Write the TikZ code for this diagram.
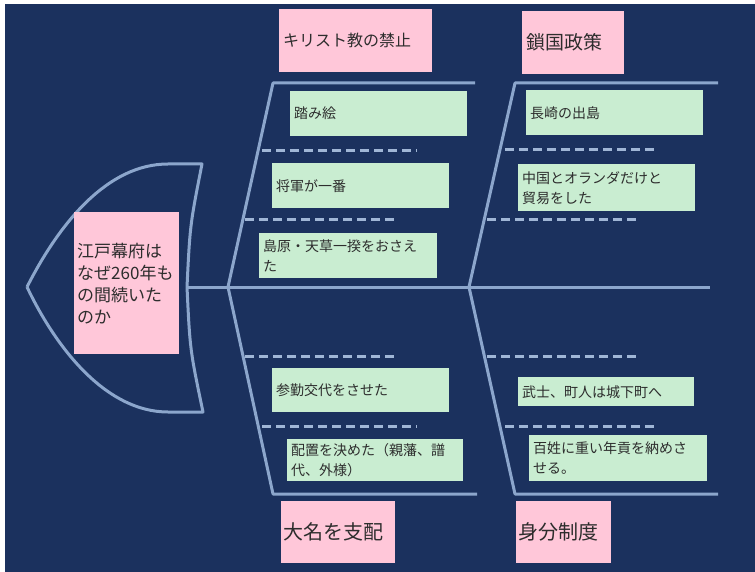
\documentclass[tikz,border=0pt]{standalone}
\usepackage{fontspec}
\setmainfont{Noto Sans CJK JP}
\usepackage{tikz}
\usetikzlibrary{positioning}
\definecolor{navy}{RGB}{27,49,94}
\definecolor{bonecol}{RGB}{140,166,204}
\definecolor{ribcol}{RGB}{160,182,214}
\definecolor{pinkbox}{RGB}{255,199,217}
\definecolor{greenbox}{RGB}{201,237,209}
\definecolor{ink}{RGB}{45,45,45}
\tikzstyle{cause} = [rectangle, anchor=north west, fill=pinkbox, text=ink,
align=left, inner xsep=4pt, inner ysep=0pt, font=\fontsize{19}{24}\selectfont]
\tikzstyle{item} = [rectangle, anchor=north west, fill=greenbox, text=ink,
align=left, inner xsep=4pt, inner ysep=0pt, font=\fontsize{14}{20}\selectfont]
\tikzstyle{bone} = [draw=bonecol, line width=3pt, line join=round]
\tikzstyle{rib} = [draw=ribcol, line width=3pt, dash pattern=on 9pt off 5pt]

\begin{document}
\begin{tikzpicture}[x=1pt, y=-1pt]

\useasboundingbox (0,0) rectangle (755,572);
\fill[white] (0,0) rectangle (755,572);
\fill[navy] (5,4) rectangle (755,572);

% head and spine
\draw[bone] (27,287) .. controls (60,222) and (108,164) .. (168,164) -- (202,164)
.. controls (190,225) .. (187,287) .. controls (190,350) .. (203,412) -- (168,412)
.. controls (108,412) and (58,352) .. (27,287);
\coordinate (neck) at (187,287);
\coordinate (tail) at (710,287);
\coordinate (jl) at (228,287);
\coordinate (jr) at (469,287);
\draw[bone] (neck) -- (tail);

% bones
\coordinate (ult) at (273,83);  \coordinate (ule) at (475,83);
\coordinate (urt) at (515,83);  \coordinate (ure) at (718,83);
\coordinate (llb) at (273,494); \coordinate (lle) at (477,494);
\coordinate (lrb) at (515,494); \coordinate (lre) at (718,494);
\draw[bone] (jl) -- (ult) -- (ule);
\draw[bone] (jr) -- (urt) -- (ure);
\draw[bone] (jl) -- (llb) -- (lle);
\draw[bone] (jr) -- (lrb) -- (lre);

% ribs
\draw[rib] (262,151) -- (417,151);
\draw[rib] (245,220) -- (398,220);
\draw[rib] (505,150) -- (658,150);
\draw[rib] (487,220) -- (640,220);
\draw[rib] (245,356) -- (398,356);
\draw[rib] (262,426) -- (417,426);
\draw[rib] (487,356) -- (640,356);
\draw[rib] (505,426) -- (658,426);

% main question
\node(question)[cause, inner xsep=3pt, text width=99pt, minimum height=142pt,
font=\fontsize{17}{22}\selectfont] at (74,212)
{江戸幕府は\\なぜ260年も\\の間続いた\\のか};

% causes
\node(kirisuto)[cause, text width=145pt, minimum height=63pt,
font=\fontsize{16}{20}\selectfont] at (279,9) {キリスト教の禁止};
\node(sakoku)[cause, text width=94pt, minimum height=63pt] at (522,11) {鎖国政策};
\node(daimyo)[cause, inner xsep=2pt, text width=110pt, minimum height=62pt,
font=\fontsize{20}{24}\selectfont] at (281,501) {大名を支配};
\node(mibun)[cause, inner xsep=2pt, text width=91pt, minimum height=62pt,
font=\fontsize{20}{24}\selectfont] at (516,501) {身分制度};

% items
\node(fumie)[item, text width=169pt, minimum height=45pt] at (290,91) {踏み絵};
\node(shogun)[item, text width=169pt, minimum height=45pt] at (272,163) {将軍が一番};
\node(shimabara)[item, text width=170pt, minimum height=45pt] at (259,233)
{島原・天草一揆をおさえ\\た};
\node(dejima)[item, text width=169pt, minimum height=45pt] at (526,90) {長崎の出島};
\node(boeki)[item, text width=169pt, minimum height=47pt] at (518,164)
{中国とオランダだけと\\貿易をした};
\node(sankin)[item, text width=169pt, minimum height=44pt] at (272,368) {参勤交代をさせた};
\node(haichi)[item, text width=168pt, minimum height=42pt] at (287,439)
{配置を決めた（親藩、譜\\代、外様）};
\node(bushi)[item, text width=168pt, minimum height=29pt] at (518,377) {武士、町人は城下町へ};
\node(hyakusho)[item, text width=170pt, minimum height=46pt] at (529,435)
{百姓に重い年貢を納めさ\\せる。};

\end{tikzpicture}
\end{document}
